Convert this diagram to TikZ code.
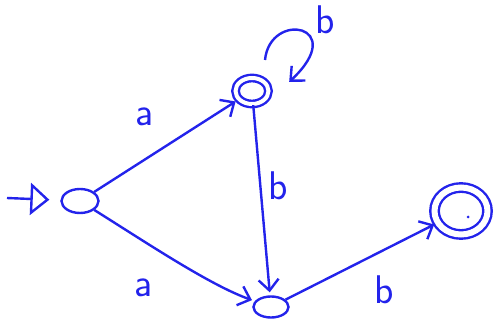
\documentclass[tikz,border=0pt]{standalone}
\usetikzlibrary{shapes.geometric,arrows.meta}
\definecolor{ink}{RGB}{35,35,235}
\begin{document}
\begin{tikzpicture}[x=1pt, y=-1pt, line width=2.4pt, draw=ink,
  state/.style={ellipse, draw, inner sep=0pt},
  accept/.style={state, double, double distance=4pt},
  arr/.style={-{Straight Barb[length=11pt, width=20pt]}, shorten >=3pt},
  lbl/.style={text=ink, font=\sffamily\fontsize{40}{40}\selectfont}]
  \useasboundingbox (0,0) rectangle (493,320);
  \node[state, minimum width=37pt, minimum height=24pt] (q0) at (80,201) {};
  \node[accept, minimum width=33pt, minimum height=26pt] (q1) at (252,91) {};
  \node[state, minimum width=35pt, minimum height=21pt] (q2) at (271,307) {};
  \node[accept, double distance=6pt, minimum width=53pt, minimum height=47pt] (q3) at (461,211) {};
  \fill[ink] (468,217) circle (1.5pt);
  \coordinate (st) at (7,198);
  \coordinate (l1) at (265,60);
  \coordinate (l2) at (287,84);
  \draw[-{Triangle[open, length=19pt, width=32pt]}, shorten >=11pt] (st) -- (q0);
  \draw[arr] (q0) -- (q1);
  \draw[arr] (q0) .. controls (150,245) and (210,285) .. (q2);
  \draw[arr] (q1) -- (q2);
  \draw[arr] (q2) -- (q3);
  \draw[arr] (l1) .. controls (270,10) and (350,25) .. (l2);
  \node[lbl] (a1) at (145,117) {a};
  \node[lbl] (a2) at (144,288) {a};
  \node[lbl] (b1) at (278,186) {b};
  \node[lbl] (b2) at (384,290) {b};
  \node[lbl] (b3) at (325,20) {b};
\end{tikzpicture}
\end{document}
